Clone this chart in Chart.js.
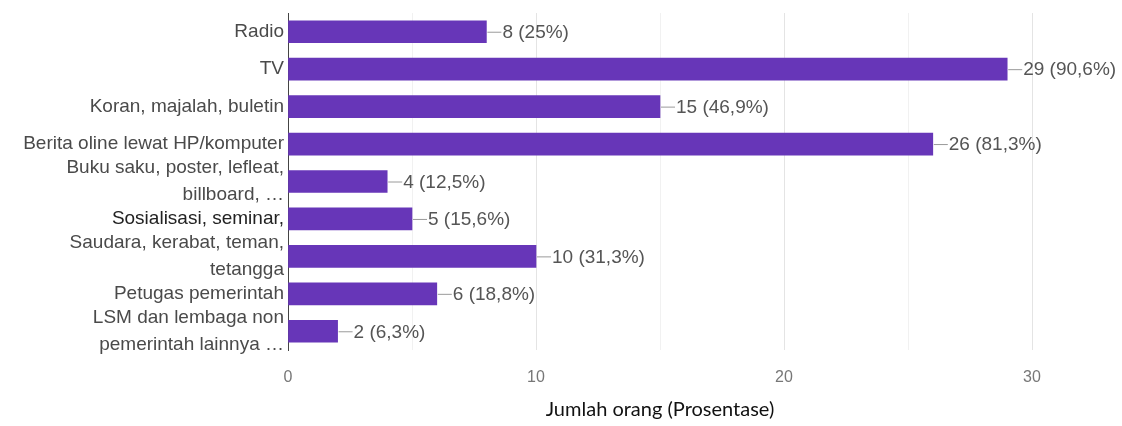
<!DOCTYPE html>
<html>
<head>
<meta charset="utf-8">
<script src="https://cdn.jsdelivr.net/npm/chart.js@4/dist/chart.umd.min.js"></script>
<style>
  html, body { margin: 0; padding: 0; background: #fff; }
  #wrap { width: 1122px; height: 426px; }
</style>
</head>
<body>
<div id="wrap"><canvas id="chart"></canvas></div>
<script>
const categories = [
  'Radio',
  'TV',
  'Koran, majalah, buletin',
  'Berita oline lewat HP/komputer',
  ['Buku saku, poster, lefleat,', 'billboard, …'],
  'Sosialisasi, seminar,',
  ['Saudara, kerabat, teman,', 'tetangga'],
  'Petugas pemerintah',
  ['LSM dan lembaga non', 'pemerintah lainnya …']
];
const counts = [8, 29, 15, 26, 4, 5, 10, 6, 2];
const percents = [25, 90.6, 46.9, 81.3, 12.5, 15.6, 31.3, 18.8, 6.3];
const xTicks = [0, 10, 20, 30];

const LABEL_FONT = '19px "Liberation Sans", Arial, sans-serif';

// short connector line + "n (p%)" after each bar
const valueLabels = {
  id: 'valueLabels',
  afterDatasetsDraw(chart) {
    const ctx = chart.ctx;
    const meta = chart.getDatasetMeta(0);
    ctx.save();
    ctx.font = LABEL_FONT;
    ctx.textBaseline = 'middle';
    ctx.textAlign = 'left';
    meta.data.forEach((bar, i) => {
      const x = bar.x, y = bar.y;
      ctx.strokeStyle = '#9a9a9a';
      ctx.lineWidth = 1;
      ctx.beginPath();
      ctx.moveTo(x + 1, y + 0.5);
      ctx.lineTo(x + 15, y + 0.5);
      ctx.stroke();
      ctx.fillStyle = '#555';
      const pct = String(percents[i]).replace('.', ',');
      ctx.fillText(counts[i] + ' (' + pct + '%)', x + 16, y + 1);
    });
    ctx.restore();
  }
};

new Chart(document.getElementById('chart'), {
  type: 'bar',
  data: {
    labels: categories,
    datasets: [{
      data: counts,
      backgroundColor: '#6736b8',
      barThickness: 22
    }]
  },
  options: {
    indexAxis: 'y',
    responsive: true,
    maintainAspectRatio: false,
    animation: false,
    layout: { padding: { top: 13, right: 90, left: 0, bottom: 0 } },
    plugins: { legend: { display: false }, tooltip: { enabled: false } },
    scales: {
      x: {
        min: 0,
        max: 30,
        afterBuildTicks(scale) {
          scale.ticks = [0, 5, 10, 15, 20, 25, 30].map(v => ({ value: v }));
        },
        afterFit(scale) {
          scale.height = 76;
          scale.paddingLeft = 0;
          scale.paddingRight = 0;
        },
        grid: {
          drawTicks: false,
          color: c => (c.tick && c.tick.value % 10 === 0) ? '#e4e4e4' : '#f1f1f1'
        },
        border: { display: false },
        ticks: {
          padding: 18,
          color: '#777',
          font: { family: '"Liberation Sans", Arial', size: 16 },
          callback: v => xTicks.includes(v) ? String(v) : ''
        },
        title: {
          display: true,
          text: 'Jumlah orang (Prosentase)',
          color: '#111',
          font: { family: 'Lato', size: 20 },
          padding: { top: 0, bottom: 4 }
        }
      },
      y: {
        afterFit(scale) {
          scale.width = 288;
          scale.paddingTop = 0;
          scale.paddingBottom = 0;
        },
        grid: { display: false, drawTicks: false },
        border: { display: true, color: '#444', width: 1 },
        ticks: {
          autoSkip: false,
          padding: 4,
          color: c => c.index === 5 ? '#222' : '#4a4a4a',
          font: { family: '"Liberation Sans", Arial', size: 19, lineHeight: 1.4 }
        }
      }
    }
  },
  plugins: [valueLabels]
});
</script>
</body>
</html>
